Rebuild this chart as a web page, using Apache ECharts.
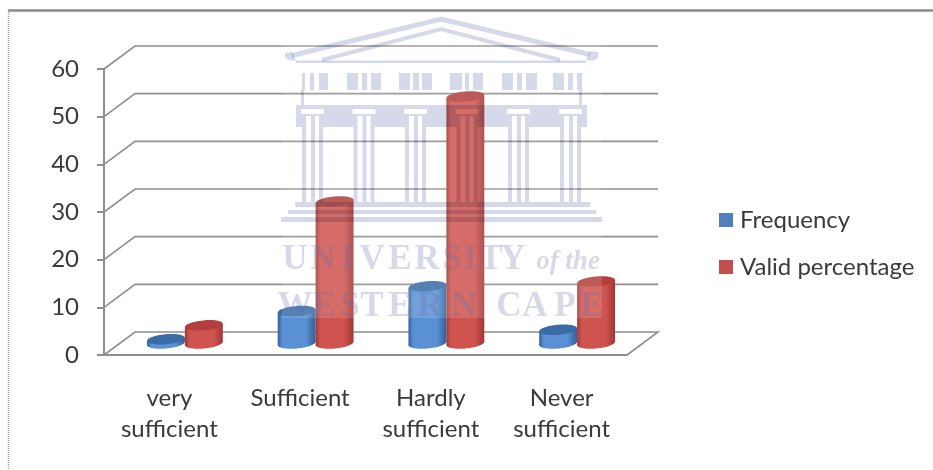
<!DOCTYPE html>
<html>
<head>
<meta charset="utf-8">
<title>Chart</title>
<script src="https://cdn.jsdelivr.net/npm/echarts@6/dist/echarts.min.js"></script>
<style>
  html, body { margin: 0; padding: 0; background: #fff; }
  #container { width: 933px; height: 470px; filter: blur(0.6px); }
</style>
</head>
<body>
<div id="container"></div>
<script>
var categories = ['very\nsufficient', 'Sufficient', 'Hardly\nsufficient', 'Never\nsufficient'];
var frequency = [0.9, 6.8, 12, 2.9];
var validPercentage = [3.8, 29.8, 51.8, 13];
var yTicks = [0, 10, 20, 30, 40, 50, 60];

// depth of the fake 3d box, in pixels
var DX = 31, DY = -23;
var LINE = '#8f8f8f';
var MARK = '#d6d9e9';
var MARK_TEXT = 'rgba(100,110,170,0.26)'; // text ignores blend, so tint it instead

function cylinder(side, shades) {
	return function (params, api) {
		var i = api.value(0);
		var base = api.coord([i, 0]);
		var top = api.coord([i, api.value(1)]);
		var w = params.coordSys.width / categories.length * 0.29;
		var x0 = base[0] + DX / 2 + (side < 0 ? -w : 0);
		var x1 = x0 + w;
		var cx = (x0 + x1) / 2;
		var yb = base[1] + DY / 2;
		var yt = top[1] + DY / 2;
		var tilt = 1.7, ry = 5, angle = 0.09;
		var body = new echarts.graphic.LinearGradient(0, 0, 1, 0, [
			{ offset: 0, color: shades[0] },
			{ offset: 0.12, color: shades[1] },
			{ offset: 0.75, color: shades[1] },
			{ offset: 1, color: shades[0] }
		]);
		return {
			type: 'group',
			children: [{
				type: 'ellipse',
				shape: { cx: cx, cy: yb, rx: w / 2, ry: ry },
				rotation: angle, originX: cx, originY: yb,
				style: { fill: body }
			}, {
				type: 'polygon',
				shape: { points: [[x0, yt + tilt], [x1, yt - tilt], [x1, yb - tilt], [x0, yb + tilt]] },
				style: { fill: body }
			}, {
				type: 'ellipse',
				shape: { cx: cx, cy: yt, rx: w / 2, ry: ry },
				rotation: angle, originX: cx, originY: yt,
				style: { fill: shades[2] }
			}]
		};
	};
}

// back wall lines, floor edge
function wallLine(params, api) {
	var r = params.coordSys;
	var y = api.coord([0, api.value(0)])[1];
	var pts = [[r.x, y], [r.x + DX, y + DY], [r.x + r.width + DX, y + DY]];
	if (api.value(0) === 0) pts.push([r.x + r.width, y]);
	return {
		type: 'polyline',
		shape: { points: pts },
		style: { stroke: LINE, lineWidth: 1.6, fill: null }
	};
}

// watermark --------------------------------------------------------------
var mark = [];

function markRect(x0, y0, x1, y1) {
	mark.push({
		type: 'rect', z: 51,
		shape: { x: x0, y: y0, width: x1 - x0, height: y1 - y0 },
		style: { fill: MARK, blend: 'multiply' }
	});
}
// one row with white gaps left in it
function markRow(x0, x1, y0, y1, gaps) {
	var x = x0;
	gaps.forEach(function (g) {
		markRect(x, y0, g[0], y1);
		x = g[1];
	});
	markRect(x, y0, x1, y1);
}
function markLine(pts, width) {
	mark.push({
		type: 'polyline', z: 51,
		shape: { points: pts },
		style: { stroke: MARK, lineWidth: width, fill: null, blend: 'multiply' }
	});
}
function markPoly(pts) {
	mark.push({
		type: 'polygon', z: 51,
		shape: { points: pts },
		style: { fill: MARK, blend: 'multiply' }
	});
}
function markText(str, x, y, font) {
	mark.push({
		type: 'text', z: 51, x: x, y: y,
		style: { text: str, fill: MARK_TEXT, font: font, align: 'center', verticalAlign: 'middle' }
	});
}

var columnLefts = [302, 353.5, 405, 456.5, 508, 560];
var friezeGaps = [[305, 310], [314, 319], [328, 347], [358, 362], [367, 371], [381, 399], [410, 413], [419, 422],
	[432, 450], [462, 465], [469, 473], [483, 502], [513, 517], [522, 526], [537, 553], [564, 568], [573, 577]];
var capitalGaps = [], stripeGaps = [];
columnLefts.forEach(function (x) {
	capitalGaps.push([x - 1, x + 22]);
	stripeGaps.push([x + 4, x + 9], [x + 13, x + 17]);
});

mark.push({
	type: 'rect', z: 50,
	shape: { x: 282, y: 15, width: 320, height: 303 },
	style: { fill: 'rgba(255,255,255,0.14)' }
});
markLine([[292, 55.5], [441, 19], [590, 54.5]], 5);
markLine([[322, 60], [441, 29], [560, 60]], 4);
markPoly([[285, 53], [292, 52], [296, 60.5], [290, 60.5], [285, 58]]);
markPoly([[590, 51], [598, 52], [598, 58], [594, 60.5], [586, 60.5]]);
markRect(296, 60.5, 586, 63);
markRow(302, 582, 73, 90, friezeGaps);
markRect(301, 90, 304, 105);
markRect(579, 90, 582, 105);
markRect(296, 105, 587, 109);
markRow(296, 587, 109, 114, capitalGaps);
markRect(296, 114, 587, 116);
markRow(296, 587, 116, 127, stripeGaps);
columnLefts.forEach(function (x) {
	markRect(x, 127, x + 4, 202);
	markRect(x + 9, 127, x + 13, 202);
	markRect(x + 17, 127, x + 21, 202);
});
markRect(295, 202, 590, 207);
markRect(288, 210, 596, 214);
markRect(281, 217, 602, 222);

var serif = 'bold 35px "Liberation Serif"';
var line1 = ['U', 'N', 'I', 'V', 'E', 'R', 'S', 'I', 'T', 'Y'];
var line1X = [295, 323, 348, 372, 400, 427, 452, 470, 491, 513];
var line2 = ['W', 'E', 'S', 'T', 'E', 'R', 'N', 'C', 'A', 'P', 'E'];
var line2X = [295, 324, 350, 372, 400, 430, 464, 509, 535, 565, 592];
line1.forEach(function (c, i) { markText(c, line1X[i], 260, serif); });
line2.forEach(function (c, i) { markText(c, line2X[i], 307, serif); });
markText('of the', 568, 262, 'italic bold 27px "Liberation Serif"');

// picture frame
mark.push({
	type: 'line', z: 60,
	shape: { x1: 8, y1: 10.5, x2: 933, y2: 10.5 },
	style: { stroke: '#8a8a8a', lineWidth: 2.4 }
}, {
	type: 'line', z: 60,
	shape: { x1: 8.5, y1: 10, x2: 8.5, y2: 470 },
	style: { stroke: '#a0a0a0', lineWidth: 1.5, lineDash: [1, 1] }
});

var myChart = echarts.init(document.getElementById('container'), null, { renderer: 'canvas' });

var option = {
	animation: false,
	textStyle: { fontFamily: 'Lato' },
	grid: { left: 104, right: 306, top: 69, bottom: 115 },
	legend: {
		orient: 'vertical',
		left: 714, top: 203,
		itemWidth: 14, itemHeight: 14, itemGap: 23,
		icon: 'rect',
		data: ['Frequency', 'Valid percentage'],
		textStyle: { fontSize: 24, color: '#3a3a3a', fontFamily: 'Lato', padding: [0, 0, 0, 2] }
	},
	xAxis: {
		type: 'category',
		data: categories,
		axisLine: { lineStyle: { color: LINE, width: 2 } },
		axisTick: { length: 7, lineStyle: { color: LINE, width: 2 } },
		axisLabel: { fontSize: 24, color: '#3a3a3a', margin: 28, lineHeight: 31, interval: 0 }
	},
	yAxis: {
		type: 'value',
		min: 0, max: 60, interval: 10,
		axisLine: { show: true, lineStyle: { color: LINE, width: 2 } },
		axisTick: { show: true, length: 7, lineStyle: { color: LINE, width: 2 } },
		axisLabel: { fontSize: 24, color: '#3a3a3a', margin: 25 },
		splitLine: { show: false }
	},
	graphic: { elements: mark },
	series: [{
		type: 'custom',
		name: 'wall',
		silent: true,
		z: 1,
		encode: { y: 0 },
		data: yTicks.map(function (v) { return [v]; }),
		renderItem: wallLine
	}, {
		type: 'custom',
		name: 'Frequency',
		z: 3,
		itemStyle: { color: '#4f81bd' },
		encode: { x: 0, y: 1 },
		data: frequency.map(function (v, i) { return [i, v]; }),
		renderItem: cylinder(-1, ['#335f96', '#5a90d4', '#3a6ca6'])
	}, {
		type: 'custom',
		name: 'Valid percentage',
		z: 4,
		itemStyle: { color: '#c0504d' },
		encode: { x: 0, y: 1 },
		data: validPercentage.map(function (v, i) { return [i, v]; }),
		renderItem: cylinder(1, ['#a03634', '#cf5450', '#b23f3d'])
	}]
};

myChart.setOption(option);
</script>
</body>
</html>
